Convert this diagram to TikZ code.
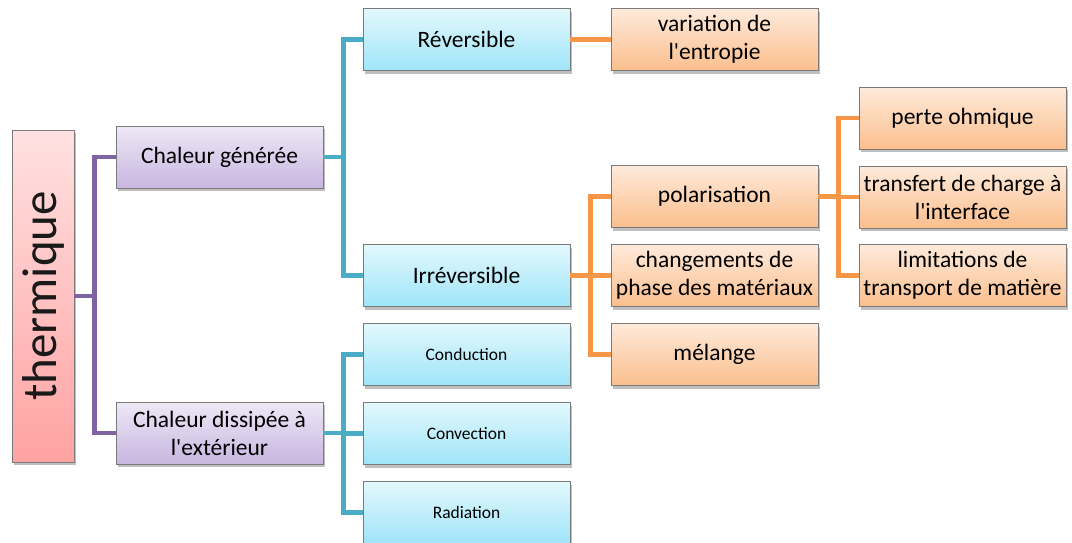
\documentclass[tikz,border=0pt]{standalone}
\usepackage{fontspec}
\setmainfont{Carlito}
\usetikzlibrary{shadows}
\definecolor{purpleline}{HTML}{8064A2}
\definecolor{tealline}{HTML}{4BACC6}
\definecolor{orangeline}{HTML}{F79646}
\definecolor{boxborder}{HTML}{7A7A7A}
\definecolor{purpletop}{HTML}{EEE8F6}
\definecolor{purplebot}{HTML}{C8B6E0}
\definecolor{bluetop}{HTML}{E3F8FD}
\definecolor{bluebot}{HTML}{9FE5F9}
\definecolor{orangetop}{HTML}{FEEADB}
\definecolor{orangebot}{HTML}{FBBF8D}
\definecolor{pinktop}{HTML}{FFE1E1}
\definecolor{pinkbot}{HTML}{FFA2A2}
\newcommand{\apos}{\textquotesingle}
\tikzset{
  box/.style={draw=boxborder, line width=0.9pt, minimum width=207pt, minimum height=62pt,
    inner sep=0pt, align=center, text=black,
    font=\fontsize{23.5}{28}\selectfont,
    drop shadow={shadow xshift=2pt, shadow yshift=-3pt, opacity=0.25, fill=black}},
  purplebox/.style={box, top color=purpletop, bottom color=purplebot},
  bluebox/.style={box, top color=bluetop, bottom color=bluebot},
  orangebox/.style={box, top color=orangetop, bottom color=orangebot},
  smalltext/.style={font=\fontsize{17.5}{21}\selectfont},
  conn/.style={line width=4.5pt, line join=miter, line cap=butt},
}
\begin{document}
\begin{tikzpicture}[x=1pt, y=-1pt]
\useasboundingbox (0,0) rectangle (1072,542);
\clip (0,0) rectangle (1072,542);
% root
\node[box, minimum width=62pt, minimum height=332pt, top color=pinktop, bottom color=pinkbot] (therm) at (43,296) {};
\node[rotate=90, font=\fontsize{49}{58}\selectfont, text=black!90] (thermtext) at (43,296) {thermique};
% level 1
\node[purplebox] (cg) at (219.5,157) {Chaleur générée};
\node[purplebox] (cd) at (219.5,433) {Chaleur dissipée à\\l\apos extérieur};
% level 2
\node[bluebox] (rev) at (466.5,39.5) {Réversible};
\node[bluebox] (irr) at (466.5,275.5) {Irréversible};
\node[bluebox, smalltext] (cond) at (466.5,354.5) {Conduction};
\node[bluebox, smalltext] (conv) at (466.5,433.5) {Convection};
\node[bluebox, smalltext] (rad) at (466.5,512.5) {Radiation};
% level 3
\node[orangebox] (var) at (714.5,39.5) {variation de\\l\apos entropie};
\node[orangebox] (pol) at (714.5,196.5) {polarisation};
\node[orangebox] (chg) at (714.5,275.5) {changements de\\phase des matériaux};
\node[orangebox] (mel) at (714.5,354.5) {mélange};
% level 4
\node[orangebox] (po) at (962.5,118) {perte ohmique};
\node[orangebox] (tc) at (962.5,197) {transfert de charge à\\l\apos interface};
\node[orangebox] (lim) at (962.5,275.5) {limitations de\\transport de matière};
% connectors
\coordinate (j0) at ([xshift=20pt]therm.east);
\draw[conn, purpleline] (therm.east) -- (j0);
\draw[conn, purpleline] (j0) |- (cg.west);
\draw[conn, purpleline] (j0) |- (cd.west);
\coordinate (j1) at ([xshift=20pt]cg.east);
\draw[conn, tealline] (cg.east) -- (j1);
\draw[conn, tealline] (j1) |- (rev.west);
\draw[conn, tealline] (j1) |- (irr.west);
\coordinate (j2) at ([xshift=20pt]cd.east);
\draw[conn, tealline] (cd.east) -- (j2);
\draw[conn, tealline] (j2) |- (cond.west);
\draw[conn, tealline] (j2) |- (conv.west);
\draw[conn, tealline] (j2) |- (rad.west);
\draw[conn, orangeline] (rev.east) -- (var.west);
\coordinate (j3) at ([xshift=20pt]irr.east);
\draw[conn, orangeline] (irr.east) -- (j3);
\draw[conn, orangeline] (j3) |- (pol.west);
\draw[conn, orangeline] (j3) |- (chg.west);
\draw[conn, orangeline] (j3) |- (mel.west);
\coordinate (j4) at ([xshift=20pt]pol.east);
\draw[conn, orangeline] (pol.east) -- (j4);
\draw[conn, orangeline] (j4) |- (po.west);
\draw[conn, orangeline] (j4) |- (tc.west);
\draw[conn, orangeline] (j4) |- (lim.west);
\end{tikzpicture}
\end{document}
